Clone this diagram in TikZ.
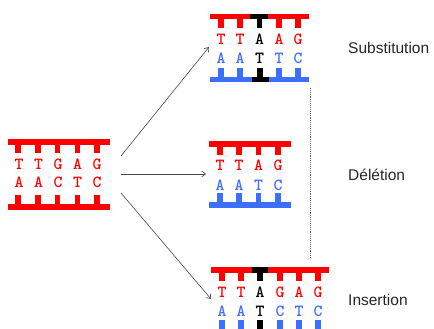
\documentclass[tikz,border=0pt]{standalone}
\usepackage{fontspec}
\setmainfont{Liberation Sans}
\usetikzlibrary{arrows.meta}
\definecolor{dnared}{RGB}{255,0,0}
\definecolor{dnablue}{RGB}{60,110,255}
\definecolor{arrowgray}{RGB}{70,70,70}
\tikzset{
  base/.style={font=\ttfamily\bfseries\fontsize{17}{17}\selectfont, inner sep=0pt, anchor=center},
  lbl/.style={font=\fontsize{15.5}{16}\selectfont, anchor=west, inner sep=0pt, text=black!85},
  conn/.style={draw=arrowgray, line width=0.6pt, -{Straight Barb[length=4pt,width=6pt]}},
  guide/.style={draw=black!60, line width=0.9pt, densely dotted},
}
% top strand: bar from #1 to #2, top y #3; teeth list #4 (x/colour)
\newcommand{\topstrandx}[4]{%
  \fill[dnared] (#1,#3) rectangle (#2,#3+5.5);
  \foreach \tx/\tc in {#4} {\fill[\tc] (\tx-2.7,#3+5) rectangle (\tx+2.7,#3+14);}
}
% bottom strand: bar from #1 to #2, bar top y #3
\newcommand{\botstrandx}[4]{%
  \fill[dnablue] (#1,#3) rectangle (#2,#3+5.5);
  \foreach \tx/\tc in {#4} {\fill[\tc] (\tx-2.7,#3-9) rectangle (\tx+2.7,#3+0.5);}
}
\begin{document}
\begin{tikzpicture}[x=1pt,y=-1pt]
\useasboundingbox (0,0) rectangle (434,329);

% ---------- original ----------
\fill[dnared] (8,139) rectangle (110,144.5);
\foreach \tx in {18,38,57.5,77.5,97} {\fill[dnared] (\tx-2.7,144) rectangle (\tx+2.7,152.5);}
\fill[dnared] (8,204) rectangle (110,210);
\foreach \tx in {18,38,57.5,77.5,97} {\fill[dnared] (\tx-2.7,195) rectangle (\tx+2.7,204.5);}
\foreach \tx/\l [count=\i] in {19/T,38.5/T,58/G,77.5/A,97/G} {\node[base,text=dnared] (o1\i) at (\tx,164) {\l};}
\foreach \tx/\l [count=\i] in {19/A,38.5/A,58/C,77.5/T,97/C} {\node[base,text=dnared] (o2\i) at (\tx,182.5) {\l};}

% ---------- substitution ----------
\topstrandx{210}{309}{14}{221/dnared,240/dnared,259.5/black,279/dnared,298/dnared}
\fill[black] (250,14) rectangle (268,19.5);
\botstrandx{210}{309}{77}{221/dnablue,240/dnablue,260/black,279/dnablue,298/dnablue}
\fill[black] (252,77) rectangle (269,82.5);
\node[base,text=dnared] (s11) at (221,39) {T};
\node[base,text=dnared] (s12) at (240,39) {T};
\node[base,text=black]  (s13) at (259.5,39) {A};
\node[base,text=dnared] (s14) at (279,39) {A};
\node[base,text=dnared] (s15) at (298,39) {G};
\node[base,text=dnablue] (s21) at (221,58) {A};
\node[base,text=dnablue] (s22) at (240,58) {A};
\node[base,text=black]   (s23) at (259.5,58) {T};
\node[base,text=dnablue] (s24) at (279,58) {T};
\node[base,text=dnablue] (s25) at (298,58) {C};

% ---------- deletion ----------
\topstrandx{209}{291}{141}{220/dnared,239/dnared,258.5/dnared,278/dnared}
\botstrandx{209}{291}{202}{220/dnablue,239/dnablue,258.5/dnablue,278/dnablue}
\foreach \tx/\l [count=\i] in {220/T,239/T,258.5/A,278/G} {\node[base,text=dnared] (d1\i) at (\tx,165) {\l};}
\foreach \tx/\l [count=\i] in {220/A,239/A,258.5/T,278/C} {\node[base,text=dnablue] (d2\i) at (\tx,185) {\l};}

% ---------- insertion ----------
\topstrandx{211}{329}{267}{222/dnared,241/dnared,260/black,280/dnared,299/dnared,318/dnared}
\fill[black] (252,267) rectangle (268,272.5);
\botstrandx{211}{329}{328.5}{222/dnablue,241/dnablue,260/black,280/dnablue,299/dnablue,318/dnablue}
\node[base,text=dnared] (i11) at (222,292) {T};
\node[base,text=dnared] (i12) at (241,292) {T};
\node[base,text=black]  (i13) at (260,292) {A};
\node[base,text=dnared] (i14) at (280,292) {G};
\node[base,text=dnared] (i15) at (299,292) {A};
\node[base,text=dnared] (i16) at (318,292) {G};
\node[base,text=dnablue] (i21) at (222,311) {A};
\node[base,text=dnablue] (i22) at (241,311) {A};
\node[base,text=black]   (i23) at (260,311) {T};
\node[base,text=dnablue] (i24) at (280,311) {C};
\node[base,text=dnablue] (i25) at (299,311) {T};
\node[base,text=dnablue] (i26) at (318,311) {C};

% ---------- labels ----------
\node[lbl] (lsub) at (348,48) {Substitution};
\node[lbl] (ldel) at (348,175) {Délétion};
\node[lbl] (lins) at (348,300) {Insertion};

% ---------- connectors ----------
\coordinate (a1s) at (121,156);
\coordinate (a1e) at (209,47);
\coordinate (a2s) at (121,174);
\coordinate (a2e) at (206,174);
\coordinate (a3s) at (121,193);
\coordinate (a3e) at (211,299);
\draw[conn] (a1s) -- (a1e);
\draw[conn] (a2s) -- (a2e);
\draw[conn] (a3s) -- (a3e);

\coordinate (g1) at (310,88);
\coordinate (g2) at (310,259);
\draw[guide] (g1) -- (g2);
\end{tikzpicture}
\end{document}
